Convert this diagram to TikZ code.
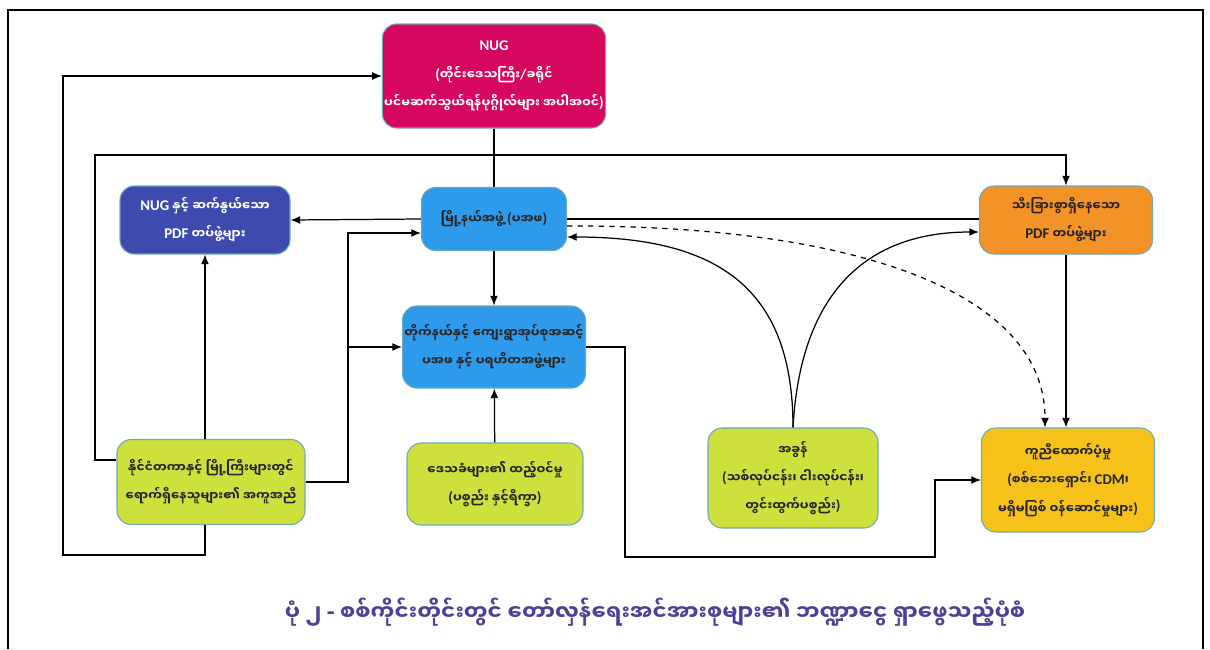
\documentclass[tikz,border=0pt]{standalone}
\usepackage{fontspec}
\newfontfamily\mmfont[Script=Myanmar]{Noto Sans Myanmar UI}
\newfontfamily\latfont[Scale=1.2]{Carlito}
\newcommand{\en}[1]{{\latfont #1}}
\usetikzlibrary{positioning,arrows.meta}
\definecolor{nugred}{HTML}{D6075F}
\definecolor{nugblue}{HTML}{3F4AAE}
\definecolor{skyblue}{HTML}{2E9AEC}
\definecolor{pdforange}{HTML}{F39226}
\definecolor{limegreen}{HTML}{CDE03C}
\definecolor{aidgold}{HTML}{F6C21A}
\definecolor{captionpurple}{HTML}{4E3F97}
\definecolor{boxedge}{HTML}{6FA8B8}
\def\px{0.567pt}
\tikzset{
  orgbox/.style={draw=boxedge, line width=0.6pt, rounded corners=8pt, align=center,
    inner sep=1pt, text=black!85,
    font=\mmfont\bfseries\fontsize{7}{16}\selectfont},
  link/.style={line width=0.7pt},
}
\begin{document}
\begin{tikzpicture}[x=\px, y=-\px, >={Latex[length=5.5pt,width=4.5pt]}]
    \useasboundingbox (0,0) rectangle (1210,649);
    \draw[line width=0.8pt] (8,649) -- (8,10) -- (1203,10) -- (1203,649);
    \node[orgbox, fill=nugred, text=white, minimum width=222*\px, minimum height=104*\px] (nug) at (494,76)
        {\en{NUG}\\\en{(}တိုင်းဒေသကြီး\en{/}ခရိုင်\\ပင်မဆက်သွယ်ရန်ပုဂ္ဂိုလ်များ အပါအဝင်\en{)}};
    \node[orgbox, fill=nugblue, text=white, minimum width=170*\px, minimum height=68*\px] (nugpdf) at (205,220)
        {\en{NUG} နှင့် ဆက်နွယ်သော\\\en{PDF} တပ်ဖွဲ့များ};
    \node[orgbox, fill=skyblue, minimum width=145*\px, minimum height=63*\px] (pakafa) at (494,219)
        {မြို့နယ်အဖွဲ့ \en{(}ပအဖ\en{)}};
    \node[orgbox, fill=pdforange, minimum width=173*\px, minimum height=68*\px] (indep) at (1066,220)
        {သီးခြားစွာရှိနေသော\\\en{PDF} တပ်ဖွဲ့များ};
    \node[orgbox, fill=skyblue, minimum width=181*\px, minimum height=82*\px] (town) at (494,347)
        {တိုက်နယ်နှင့် ကျေးရွာအုပ်စုအဆင့်\\ပအဖ နှင့် ပရဟိတအဖွဲ့များ};
    \node[orgbox, fill=limegreen, minimum width=188*\px, minimum height=85*\px] (dias) at (211,482)
        {နိုင်ငံတကာနှင့် မြို့ကြီးများတွင်\\ရောက်ရှိနေသူများ၏ အကူအညီ};
    \node[orgbox, fill=limegreen, minimum width=176*\px, minimum height=82*\px] (local) at (495,484)
        {ဒေသခံများ၏ ထည့်ဝင်မှု\\\en{(}ပစ္စည်း နှင့်ရိက္ခာ\en{)}};
    \node[orgbox, fill=limegreen, minimum width=170*\px, minimum height=100*\px] (tax) at (793,478)
        {အခွန်\\\en{(}သစ်လုပ်ငန်း၊ ငါးလုပ်ငန်း၊\\တွင်းထွက်ပစ္စည်း\en{)}};
    \node[orgbox, fill=aidgold, minimum width=173*\px, minimum height=104*\px] (aid) at (1068,480)
        {ကူညီထောက်ပံ့မှု\\\en{(}စစ်ဘေးရှောင်၊ \en{CDM}၊\\မရှိမဖြစ် ဝန်ဆောင်မှုများ\en{)}};
    \node[font=\mmfont\bfseries\fontsize{12.1}{16}\selectfont, text=captionpurple] (cap) at (655,612)
        {ပုံ ၂ \en{-} စစ်ကိုင်းတိုင်းတွင် တော်လှန်ရေးအင်အားစုများ၏ ဘဏ္ဍာငွေ ရှာဖွေသည့်ပုံစံ};
    \coordinate (topl) at (95,155);
    \coordinate (botl) at (63,555);
    \coordinate (jn) at (348,347);
    \coordinate (rb) at (625,557);
    \coordinate (rb2) at (935,557);
    \draw[link] (nug) -- (pakafa);
    \draw[link,->] ([yshift=22*\px]dias.west) -| (topl) -| (indep.north);
    \draw[link,->] (dias.south -| nugpdf.south) |- (botl) |- (nug.west);
    \draw[link,->] (pakafa.west) -- (nugpdf.east);
    \draw[link,->] (dias.north -| nugpdf.south) -- (nugpdf.south);
    \draw[link,->] (dias.east) -| (jn) -- (town.west);
    \draw[link,->] (jn) |- ([yshift=-14*\px]pakafa.west);
    \draw[link,->] (pakafa) -- (town);
    \draw[link,->] (local) -- (town);
    \draw[link] (pakafa.east) -- (pakafa.east -| indep.west);
    \draw[link,->,dashed] ([yshift=-7*\px]pakafa.east) .. controls (850,225) and (1045,290) .. ([xshift=-23*\px]aid.north);
    \draw[link,->] (tax.north) .. controls (793,290) and (720,237) .. ([yshift=-18*\px]pakafa.east);
    \draw[link,->] (tax.north) .. controls (800,300) and (860,232) .. ([yshift=-12*\px]indep.west);
    \draw[link,->] (indep.south) -- (indep.south |- aid.north);
    \draw[link,->] (town.east) -| (rb) -- (rb2) |- (aid.west);
\end{tikzpicture}
\end{document}
